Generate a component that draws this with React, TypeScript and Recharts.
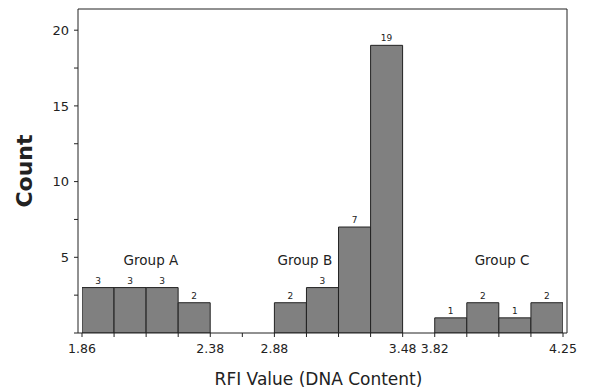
import React from 'react';
import { BarChart, Bar, XAxis, YAxis, LabelList, ReferenceDot, Label } from 'recharts';

const binIds = ['b1', 'b2', 'b3', 'b4', 'b5', 'b6', 'b7', 'b8', 'b9', 'b10', 'b11', 'b12', 'b13', 'b14', 'b15'];
const counts = [3, 3, 3, 2, 0, 0, 2, 3, 7, 19, 0, 1, 2, 1, 2];
const edgeIndex = [0, 1, 2, 3, 4, 5, 6, 7, 8, 9, 10, 11, 12, 13, 14, 15];
const edgeLabels = ['1.86', '', '', '', '2.38', '', '2.88', '', '', '', '3.48', '3.82', '', '', '', '4.25'];
const yTicks = [0, 2.5, 5, 7.5, 10, 12.5, 15, 17.5, 20];
const groupNames = ['Group A', 'Group B', 'Group C'];
const groupEdge = [2.15, 6.95, 13.1];
const groupY = [4.8, 4.8, 4.8];

const data = binIds.map((id, i) => ({ id, pos: i + 0.5, count: counts[i] }));
const font = 'DejaVu Sans, Verdana, sans-serif';
const ink = '#222';

export default function App() {
  return (
    <div style={{ position: 'absolute', left: 0, top: 0, width: 589, height: 390, background: '#fff', fontFamily: font }}>
      <BarChart
        width={589}
        height={390}
        data={data}
        margin={{ top: 8, right: 21, bottom: 0, left: 0 }}
        barCategoryGap={0}
        barGap={0}
      >
        <XAxis
          xAxisId="num"
          dataKey="pos"
          type="number"
          domain={[0, 15]}
          ticks={edgeIndex}
          interval={0}
          padding={{ left: 4, right: 4 }}
          height={57}
          tickSize={4}
          tickMargin={7}
          stroke={ink}
          tickLine={{ stroke: ink }}
          tickFormatter={(v: number) => edgeLabels[v] ?? ''}
          tick={{ fill: ink, fontSize: 12.5, fontFamily: font }}
          allowDataOverflow
        >
          <Label value="RFI Value (DNA Content)" position="insideBottom" offset={5} dx={-4} fill={ink} fontSize={17} fontFamily={font} />
        </XAxis>
        <XAxis
          xAxisId="top"
          orientation="top"
          type="number"
          dataKey="pos"
          domain={[0, 15]}
          tick={false}
          tickLine={false}
          height={1}
          stroke={ink}
          allowDataOverflow
        />
        <YAxis
          yAxisId="left"
          type="number"
          domain={[0, 21.4]}
          ticks={yTicks}
          interval={0}
          width={78}
          tickSize={4}
          tickMargin={5}
          stroke={ink}
          tickLine={{ stroke: ink }}
          tickFormatter={(v: number) => (v > 0 && v % 5 === 0 ? String(v) : '')}
          tick={{ fill: ink, fontSize: 13, fontFamily: font }}
          allowDataOverflow
        >
          <Label
            value="Count"
            angle={-90}
            position="insideLeft"
            offset={33}
            dx={-9}
            textAnchor="middle"
            fill={ink}
            fontSize={22}
            fontWeight="bold"
            fontFamily={font}
          />
        </YAxis>
        <YAxis
          yAxisId="right"
          orientation="right"
          type="number"
          domain={[0, 21.4]}
          tick={false}
          tickLine={false}
          width={1}
          stroke={ink}
          allowDataOverflow
        />
        <Bar xAxisId="num" yAxisId="left" dataKey="count" fill="#808080" stroke={ink} strokeWidth={1} isAnimationActive={false}>
          <LabelList
            dataKey="count"
            position="top"
            offset={4}
            formatter={(v: number) => (v ? String(v) : '')}
            style={{ fill: ink, fontSize: 9, fontFamily: font }}
          />
        </Bar>
        {groupNames.map((name, i) => (
          <ReferenceDot
            key={name}
            xAxisId="num"
            yAxisId="left"
            x={groupEdge[i]}
            y={groupY[i]}
            r={0}
            fill="none"
            stroke="none"
            label={{ value: name, position: 'center', fill: ink, fontSize: 13.5, fontFamily: font }}
          />
        ))}
      </BarChart>
    </div>
  );
}
